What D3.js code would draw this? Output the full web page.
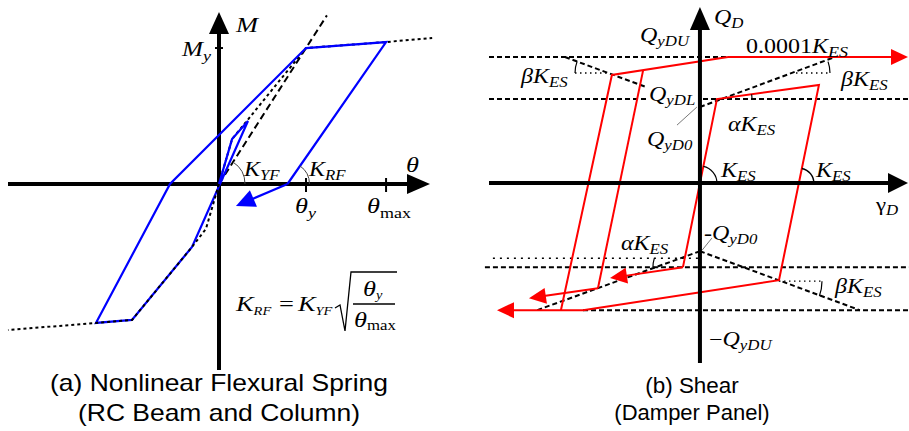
<!DOCTYPE html>
<html><head><meta charset="utf-8">
<script src="https://cdn.jsdelivr.net/npm/d3@7"></script>
<style>html,body{margin:0;padding:0;background:#fff;}svg{display:block;}</style>
</head><body>
<svg id="chart" width="909" height="431"></svg>
<script>
// ---------- Panel (a): theta in units of theta_y, M in units of M_y
const aAxisTheta = [-2.425, 2.425];
const aAxisM = [-1.368, 1.265];
const aSkeletonPos = [[0,0],[0.15,0.33],[1,1],[1.92,1.044],[2.45,1.074]];
const aSkeletonNeg = [[0,0],[-0.15,-0.33],[-0.31,-0.463],[-1,-1],[-1.414,-1.022],[-2.425,-1.074]];
const aSecant = [[0,0],[1.24,1.24]];
const aHysteresis = [[0,0],[0.15,0.33],[0.333,0.463],[-0.31,-0.463],[-1,-1],[-1.414,-1.022],[-0.563,0],[1,1],[1.92,1.044],[0.787,0]];
const aUnloadArrow = [[0.787,0],[0.195,-0.162]];
const aTicksTheta = [{v:1, sub:"y", dx:-11},{v:1.92, sub:"max", dx:-19}];
const aTicksM = [{v:1, sub:"y"}];

// ---------- Panel (b): gamma in units of yield strain, Q in units of Q_yDL
const bAxisGamma = [-12.41, 12.24];
const bAxisQ = [-2.14, 2.095];
const bRedMain = [[-1,-1],[1,1],[7.0,1.167],[4.65,-1.155],[-6.88,-1.512],[-11.94,-1.512]];
const bRedInner = [[-1,-1],[-5.29,-1.13]];
const bRedMiddle = [[-3.35,1.335],[-6,-1.25],[-10.06,-1.37]];
const bRedOuter = [[-8.18,-1.512],[-5.18,1.286],[1.65,1.5],[12.24,1.5]];
const bDashedH = [
  {q:1.5, from:-12.41, to:1.65},
  {q:1, from:-12.41, to:-3.06},
  {q:1, from:0.18, to:12.3},
  {q:-1, from:-12.65, to:12.3},
  {q:-1.512, from:-6.88, to:12.3}
];
const bDottedH = [{q:-0.893, from:-12.18, to:-0.12}];
const bBetaLines = [
  [[0,0.905],[7.94,1.5]],
  [[-3.25,1.149],[-7.94,1.5]],
  [[0,-0.81],[9.41,-1.512]],
  [[0,-0.81],[-9.59,-1.512]]
];
const bBetaRefs = [[[-7.35,1.31],[-5.41,1.31]],[[5.65,1.31],[7.65,1.31]],[[4.65,-1.167],[7.18,-1.167]]];
const bLeaders = [[[-1.35,0.69],[-0.18,0.905]],[[0.7,-0.655],[0.12,-0.80]]];

const svg = d3.select("#chart");
const xA = d3.scaleLinear().domain(aAxisTheta).range([8,430]);
const yA = d3.scaleLinear().domain(aAxisM).range([370,12]);
const xB = d3.scaleLinear().domain(bAxisGamma).range([489,908]);
const yB = d3.scaleLinear().domain(bAxisQ).range([363,7]);
const lineA = d3.line().x(d=>xA(d[0])).y(d=>yA(d[1]));
const lineB = d3.line().x(d=>xB(d[0])).y(d=>yB(d[1]));

const SERIF = "'Liberation Serif','Times New Roman',serif";
const SANS = "'Liberation Sans',Arial,sans-serif";

function arrow(g, p0, tip, color, L, W, sw){
  const dx = tip[0]-p0[0], dy = tip[1]-p0[1], len = Math.hypot(dx,dy);
  const ux = dx/len, uy = dy/len;
  const bx = tip[0]-ux*L, by = tip[1]-uy*L;
  g.append("line").attr("x1",p0[0]).attr("y1",p0[1]).attr("x2",bx+ux*2).attr("y2",by+uy*2)
    .attr("stroke",color).attr("stroke-width",sw);
  g.append("path").attr("d",`M${tip[0]},${tip[1]}L${bx-uy*W},${by+ux*W}L${bx+uy*W},${by-ux*W}Z`).attr("fill",color);
}
function label(g, x, y, parts, o={}){
  const size = o.size||20, sub = o.sub||Math.round(size*0.7), sdy = o.sdy||5;
  const t = g.append("text").attr("transform",`translate(${x},${y}) scale(${o.sx||1.2},1)`)
    .attr("font-family", o.family||SERIF).attr("font-size",size)
    .attr("text-anchor",o.anchor||"start").attr("fill","#000");
  let cur = 0;
  parts.forEach(([s,k])=>{
    const isSub = k[0]==="s";
    const target = isSub ? sdy : 0;
    const ts = t.append("tspan").text(s).attr("dy",target-cur)
      .attr("font-style", k.endsWith("i")?"italic":"normal");
    if(isSub) ts.attr("font-size",sub);
    cur = target;
  });
  return t;
}
function arcPath(g, cx, cy, r, a0, a1, ccw, opts={}){
  const p = d3.path(); p.moveTo(cx+r*Math.cos(a0), cy+r*Math.sin(a0)); p.arc(cx,cy,r,a0,a1,ccw);
  g.append("path").attr("d",p.toString()).attr("fill","none")
    .attr("stroke",opts.color||"#444").attr("stroke-width",opts.sw||1);
}

// ================= Panel (a) =================
const ga = svg.append("g");
const ax0 = xA(0), ay0 = yA(0);
ga.append("line").attr("x1",xA(aAxisTheta[0])).attr("x2",xA(aAxisTheta[1])-20).attr("y1",ay0).attr("y2",ay0).attr("stroke","#000").attr("stroke-width",4);
ga.append("path").attr("d",`M${xA(aAxisTheta[1])},${ay0}L${xA(aAxisTheta[1])-23},${ay0-10}L${xA(aAxisTheta[1])-23},${ay0+10}Z`);
ga.append("line").attr("x1",ax0).attr("x2",ax0).attr("y1",yA(aAxisM[0])).attr("y2",yA(aAxisM[1])+20).attr("stroke","#000").attr("stroke-width",4);
ga.append("path").attr("d",`M${ax0},${yA(aAxisM[1])}L${ax0-10},${yA(aAxisM[1])+22}L${ax0+10},${yA(aAxisM[1])+22}Z`);
aTicksTheta.forEach(t=>{
  ga.append("line").attr("x1",xA(t.v)).attr("x2",xA(t.v)).attr("y1",ay0-6).attr("y2",ay0+8).attr("stroke","#000").attr("stroke-width",2);
  label(ga, xA(t.v)+t.dx, ay0+29, [["θ","i"],[t.sub, t.sub==="y"?"si":"sr"]], {size:22, sub:15, sdy:5});
});
aTicksM.forEach(t=>{
  ga.append("line").attr("x1",ax0-4).attr("x2",ax0+4).attr("y1",yA(t.v)).attr("y2",yA(t.v)).attr("stroke","#000").attr("stroke-width",2);
  label(ga, 182, yA(t.v)+8, [["M","i"],[t.sub,"si"]], {size:21, sub:15, sdy:5});
});
label(ga, 236, 32, [["M","i"]], {size:22});
label(ga, 406, 172, [["θ","i"]], {size:22});

ga.append("path").attr("d",lineA(aSkeletonPos)).attr("fill","none").attr("stroke","#000").attr("stroke-width",2).attr("stroke-dasharray","3,3");
ga.append("path").attr("d",lineA(aSecant)).attr("fill","none").attr("stroke","#000").attr("stroke-width",2).attr("stroke-dasharray","7,4");
ga.append("path").attr("d",lineA(aHysteresis)).attr("fill","none").attr("stroke","#0000ff").attr("stroke-width",2.2).attr("stroke-linejoin","miter");
arrow(ga, [xA(aUnloadArrow[0][0]),yA(aUnloadArrow[0][1])],[xA(aUnloadArrow[1][0]),yA(aUnloadArrow[1][1])],"#0000ff",19,9,2.2);
ga.append("path").attr("d",lineA(aSkeletonNeg)).attr("fill","none").attr("stroke","#000").attr("stroke-width",2).attr("stroke-dasharray","3,3");
arcPath(ga, ax0, ay0, 26, 0, Math.atan2(yA(aSecant[1][1])-ay0, xA(aSecant[1][0])-ax0), true);
{
  const p0 = [xA(aHysteresis[9][0]), yA(aHysteresis[9][1])], p1=[xA(aHysteresis[8][0]), yA(aHysteresis[8][1])];
  arcPath(ga, p0[0], p0[1], 22, 0, Math.atan2(p1[1]-p0[1], p1[0]-p0[0]), true);
}
label(ga, 244, 176, [["K","i"],["YF","si"]], {size:20, sub:14, sdy:4});
label(ga, 309, 176, [["K","i"],["RF","si"]], {size:20, sub:14, sdy:4});
// formula
label(ga, 236, 311, [["K","i"],["RF","si"]], {size:22, sub:12, sdy:4});
label(ga, 279, 311, [["=","r"]], {size:22});
label(ga, 298, 311, [["K","i"],["YF","si"]], {size:22, sub:12, sdy:4});
ga.append("path").attr("d","M335,308L340,305L345,331L351,272L397,272").attr("fill","none").attr("stroke","#000").attr("stroke-width",1.3);
ga.append("line").attr("x1",353).attr("x2",395).attr("y1",304).attr("y2",304).attr("stroke","#000").attr("stroke-width",1.3);
label(ga, 363, 296, [["θ","i"],["y","si"]], {size:22, sub:12, sdy:3});
label(ga, 354, 327, [["θ","i"],["max","sr"]], {size:22, sub:14, sdy:3});
label(ga, 219, 391, [["(a) Nonlinear Flexural Spring","r"]], {size:23, sx:1.15, family:SANS, anchor:"middle"});
label(ga, 219, 421, [["(RC Beam and Column)","r"]], {size:23, sx:1.15, family:SANS, anchor:"middle"});

// ================= Panel (b) =================
const gb = svg.append("g");
const bx0 = xB(0), by0 = yB(0);
bDashedH.forEach(d=>{
  gb.append("line").attr("x1",xB(d.from)).attr("x2",xB(d.to)).attr("y1",yB(d.q)).attr("y2",yB(d.q))
    .attr("stroke","#000").attr("stroke-width",2).attr("stroke-dasharray","5,3");
});
bDottedH.forEach(d=>{
  gb.append("line").attr("x1",xB(d.from)).attr("x2",xB(d.to)).attr("y1",yB(d.q)).attr("y2",yB(d.q))
    .attr("stroke","#000").attr("stroke-width",1.6).attr("stroke-dasharray","2,5");
});
bBetaLines.forEach(l=>{
  gb.append("path").attr("d",lineB(l)).attr("fill","none").attr("stroke","#000").attr("stroke-width",2).attr("stroke-dasharray","5,3");
});
bBetaRefs.forEach(l=>{
  gb.append("path").attr("d",lineB(l)).attr("fill","none").attr("stroke","#000").attr("stroke-width",1.3).attr("stroke-dasharray","1.5,3.5");
});
bLeaders.forEach(l=>{
  gb.append("path").attr("d",lineB(l)).attr("fill","none").attr("stroke","#555").attr("stroke-width",0.8);
});
function redPath(pts){
  const px = pts.map(d=>[xB(d[0]),yB(d[1])]);
  const body = px.slice(0,-1);
  if(body.length>1) gb.append("path").attr("d",d3.line()(body)).attr("fill","none").attr("stroke","#ff0000").attr("stroke-width",2).attr("stroke-linejoin","miter");
  arrow(gb, px[px.length-2], px[px.length-1], "#ff0000", 17, 8, 2);
}
redPath(bRedMain);
redPath(bRedInner);
redPath(bRedMiddle);
redPath(bRedOuter);

gb.append("line").attr("x1",xB(bAxisGamma[0])).attr("x2",xB(bAxisGamma[1])-18).attr("y1",by0).attr("y2",by0).attr("stroke","#000").attr("stroke-width",4);
gb.append("path").attr("d",`M${xB(bAxisGamma[1])},${by0}L${xB(bAxisGamma[1])-20},${by0-10}L${xB(bAxisGamma[1])-20},${by0+10}Z`);
gb.append("line").attr("x1",bx0).attr("x2",bx0).attr("y1",yB(bAxisQ[0])).attr("y2",yB(bAxisQ[1])+20).attr("stroke","#000").attr("stroke-width",4);
gb.append("path").attr("d",`M${bx0},${yB(bAxisQ[1])}L${bx0-10},${yB(bAxisQ[1])+23}L${bx0+10},${yB(bAxisQ[1])+23}Z`);

{
  const e = [xB(bRedMain[1][0])-bx0, yB(bRedMain[1][1])-by0];
  arcPath(gb, bx0, by0, 17, 0, Math.atan2(e[1],e[0]), true, {color:"#000",sw:1.2});
  const a = bRedMain[2], b = bRedMain[3];
  const g0 = a[0] + (0-a[1])*(b[0]-a[0])/(b[1]-a[1]);
  arcPath(gb, xB(g0), by0, 15, 0, Math.atan2(yB(a[1])-by0, xB(a[0])-xB(g0)), true, {color:"#000",sw:1.5});
  const p1=[xB(bRedMain[1][0]),yB(bRedMain[1][1])], p2=[xB(bRedMain[2][0]),yB(bRedMain[2][1])];
  arcPath(gb, p1[0], p1[1], 35, 0, Math.atan2(p2[1]-p1[1],p2[0]-p1[0]), true, {color:"#000",sw:1.2});
  const q1=[xB(bRedInner[0][0]),yB(bRedInner[0][1])];
  arcPath(gb, q1[0], q1[1], 30, -Math.PI, -Math.PI+0.3, false, {color:"#000",sw:1.2});
  bBetaRefs.forEach((r,i)=>{
    const c = i===0 ? [xB(r[1][0]),yB(r[1][1])] : [xB(r[0][0]),yB(r[0][1])];
    const rad = Math.abs(xB(r[1][0])-xB(r[0][0]));
    if(i===0) arcPath(gb, c[0], c[1], rad, -Math.PI, -Math.PI+0.36, false, {color:"#000",sw:1.2});
    else if(i===1) arcPath(gb, c[0], c[1], rad, 0, -0.34, true, {color:"#000",sw:1.2});
    else arcPath(gb, c[0], c[1], rad, 0, 0.35, false, {color:"#000",sw:1.2});
  });
}

label(gb, 714, 24, [["Q","i"],["D","si"]], {size:20, sub:14, sdy:4});
label(gb, 640, 42, [["Q","i"],["yDU","si"]], {size:20, sub:14, sdy:4});
label(gb, 746, 53, [["0.0001","r"],["K","i"],["ES","si"]], {size:20, sub:15, sdy:4});
label(gb, 521, 83, [["β","i"],["K","i"],["ES","si"]], {size:20, sub:14, sdy:4});
label(gb, 841, 86, [["β","i"],["K","i"],["ES","si"]], {size:20, sub:14, sdy:4});
label(gb, 649, 101, [["Q","i"],["yDL","si"]], {size:20, sub:14, sdy:4});
label(gb, 647, 146, [["Q","i"],["yD0","si"]], {size:20, sub:14, sdy:4});
label(gb, 728, 131, [["α","i"],["K","i"],["ES","si"]], {size:20, sub:14, sdy:4});
label(gb, 721, 177, [["K","i"],["ES","si"]], {size:20, sub:14, sdy:4});
label(gb, 816, 177, [["K","i"],["ES","si"]], {size:20, sub:14, sdy:4});
label(gb, 876, 211, [["γ","r"],["D","si"]], {size:19, sub:14, sdy:4});
label(gb, 704, 240, [["-","r"],["Q","i"],["yD0","si"]], {size:20, sub:14, sdy:4});
label(gb, 621, 250, [["α","i"],["K","i"],["ES","si"]], {size:20, sub:14, sdy:4});
label(gb, 835, 293, [["β","i"],["K","i"],["ES","si"]], {size:20, sub:14, sdy:4});
label(gb, 709, 346, [["−","r"],["Q","i"],["yDU","si"]], {size:20, sub:14, sdy:4});
label(gb, 692, 393, [["(b) Shear","r"]], {size:22, sx:1.02, family:SANS, anchor:"middle"});
label(gb, 692, 420, [["(Damper Panel)","r"]], {size:22, sx:1.0, family:SANS, anchor:"middle"});
</script>
</body></html>
